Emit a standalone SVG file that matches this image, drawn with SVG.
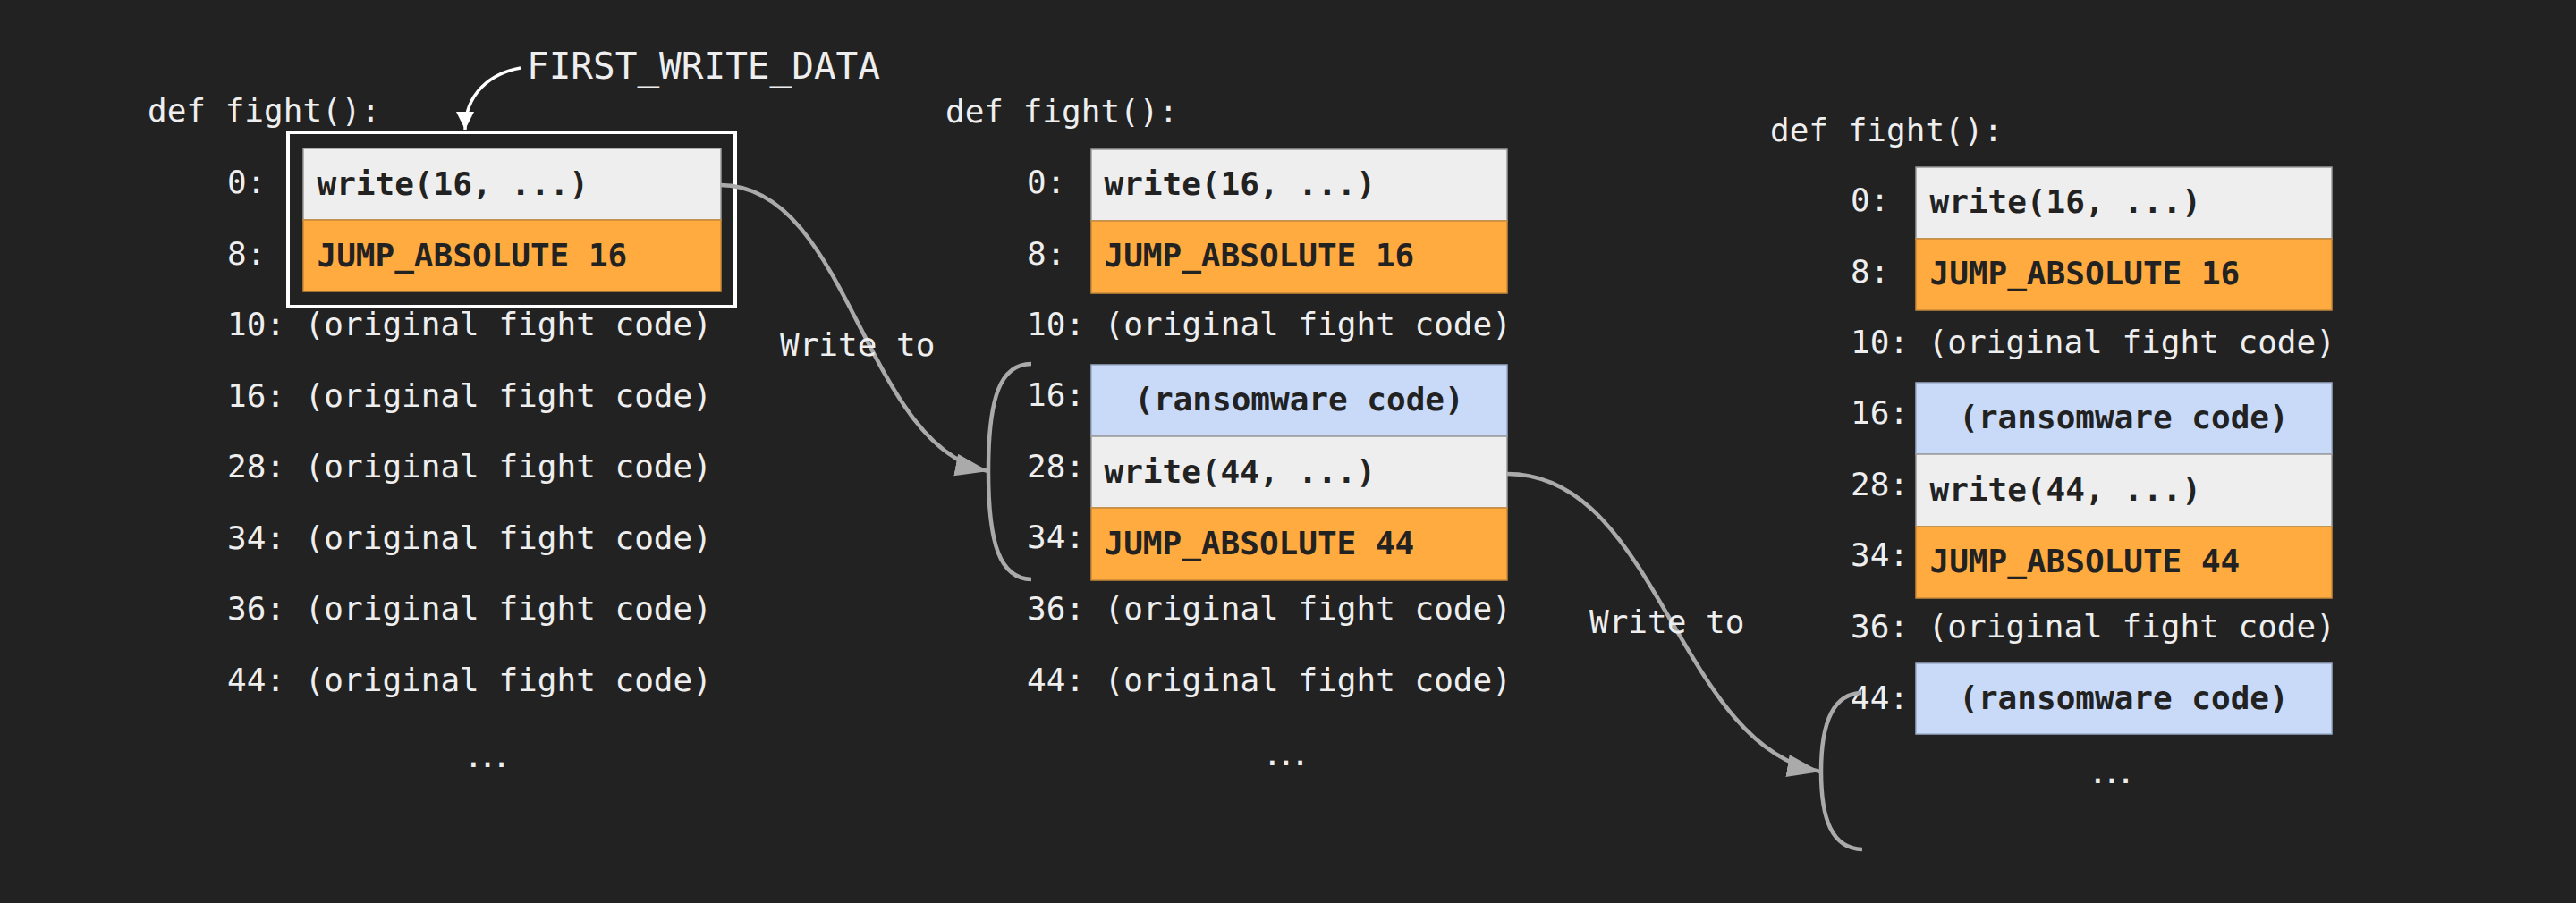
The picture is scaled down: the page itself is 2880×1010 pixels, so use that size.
<svg xmlns="http://www.w3.org/2000/svg" width="2880" height="1010" viewBox="0 0 2880 1010">
<defs>
<style>
.t{font-family:"DejaVu Sans Mono","Liberation Mono",monospace;font-size:36px;fill:#eeeeee}
.c{font-family:"DejaVu Sans Mono","Liberation Mono",monospace;font-size:36px;font-weight:bold;fill:#222222}
.mid{text-anchor:middle}
.dots{letter-spacing:-6px}
.w{fill:#eeeeee;stroke:#9a9a9a;stroke-width:1.5}
.o{fill:#ffab40;stroke:#c98a3a;stroke-width:1.5}
.b{fill:#c9daf8;stroke:#9aabc6;stroke-width:1.5}
.conn{fill:none;stroke:#aaaaaa;stroke-width:4.5}
.brk{fill:none;stroke:#aaaaaa;stroke-width:4.5}
</style>
<marker id="ah" markerUnits="userSpaceOnUse" markerWidth="40" markerHeight="28" refX="37" refY="12.5" orient="auto">
<path d="M0,0 L37,12.5 L0,25 z" fill="#aaaaaa"/>
</marker>
<marker id="ahw" markerUnits="userSpaceOnUse" markerWidth="22" markerHeight="22" refX="20" refY="10" orient="auto">
<path d="M0,0 L20,10 L0,20 z" fill="#ffffff"/>
</marker>
</defs>
<rect x="0" y="0" width="2880" height="1010" fill="#222222"/>

<!-- Column 1 -->
<g id="col1-labels">
<text class="t" x="165" y="136">def fight():</text>
<text class="t" x="254" y="216">0:</text>
<text class="t" x="254" y="295.5">8:</text>
<text class="t" x="254" y="375">10: (original fight code)</text>
<text class="t" x="254" y="454.5">16: (original fight code)</text>
<text class="t" x="254" y="534">28: (original fight code)</text>
<text class="t" x="254" y="613.5">34: (original fight code)</text>
<text class="t" x="254" y="693">36: (original fight code)</text>
<text class="t" x="254" y="772.5">44: (original fight code)</text>
<text class="t dots" x="518.5" y="858">...</text>
</g>
<g id="first-write-data">
<rect x="322" y="148" width="500" height="195" fill="none" stroke="#ffffff" stroke-width="4"/>
<text class="t" x="589" y="88" style="font-size:41px">FIRST_WRITE_DATA</text>
<path d="M582,76 C548,82 520,105 520,145" fill="none" stroke="#ffffff" stroke-width="3.5" marker-end="url(#ahw)"/>
</g>
<g id="c1-write16">
<rect class="w" x="339" y="166" width="467" height="80"/>
<text class="c" x="354.5" y="218">write(16, ...)</text>
</g>
<g id="c1-jump16">
<rect class="o" x="339" y="246" width="467" height="80"/>
<text class="c" x="354.5" y="298">JUMP_ABSOLUTE 16</text>
</g>

<!-- Column 2 -->
<g id="col2-labels">
<text class="t" x="1057" y="137">def fight():</text>
<text class="t" x="1148" y="216">0:</text>
<text class="t" x="1148" y="295.5">8:</text>
<text class="t" x="1148" y="375">10: (original fight code)</text>
<text class="t" x="1148" y="454">16:</text>
<text class="t" x="1148" y="534">28:</text>
<text class="t" x="1148" y="613">34:</text>
<text class="t" x="1148" y="693">36: (original fight code)</text>
<text class="t" x="1148" y="772.5">44: (original fight code)</text>
<text class="t dots" x="1411.4" y="856">...</text>
</g>
<g id="c2-write16">
<rect class="w" x="1220" y="167" width="465" height="80"/>
<text class="c" x="1234.5" y="218">write(16, ...)</text>
</g>
<g id="c2-jump16">
<rect class="o" x="1220" y="247" width="465" height="81"/>
<text class="c" x="1234.5" y="298">JUMP_ABSOLUTE 16</text>
</g>
<g id="c2-ransom16">
<rect class="b" x="1220" y="408" width="465" height="80"/>
<text class="c mid" x="1452.5" y="459">(ransomware code)</text>
</g>
<g id="c2-write44">
<rect class="w" x="1220" y="488" width="465" height="80"/>
<text class="c" x="1234.5" y="540">write(44, ...)</text>
</g>
<g id="c2-jump44">
<rect class="o" x="1220" y="568" width="465" height="81"/>
<text class="c" x="1234.5" y="620">JUMP_ABSOLUTE 44</text>
</g>

<!-- Column 3 -->
<g id="col3-labels">
<text class="t" x="1979" y="158">def fight():</text>
<text class="t" x="2069" y="236">0:</text>
<text class="t" x="2069" y="315.5">8:</text>
<text class="t" x="2069" y="395">10: (original fight code)</text>
<text class="t" x="2069" y="474">16:</text>
<text class="t" x="2069" y="554">28:</text>
<text class="t" x="2069" y="633">34:</text>
<text class="t" x="2069" y="713">36: (original fight code)</text>
<text class="t" x="2069" y="793">44:</text>
<text class="t dots" x="2334.4" y="876">...</text>
</g>
<g id="c3-write16">
<rect class="w" x="2142" y="187" width="465" height="80"/>
<text class="c" x="2157.5" y="238">write(16, ...)</text>
</g>
<g id="c3-jump16">
<rect class="o" x="2142" y="267" width="465" height="80"/>
<text class="c" x="2157.5" y="318">JUMP_ABSOLUTE 16</text>
</g>
<g id="c3-ransom16">
<rect class="b" x="2142" y="428" width="465" height="80"/>
<text class="c mid" x="2374.5" y="479">(ransomware code)</text>
</g>
<g id="c3-write44">
<rect class="w" x="2142" y="508" width="465" height="81"/>
<text class="c" x="2157.5" y="560">write(44, ...)</text>
</g>
<g id="c3-jump44">
<rect class="o" x="2142" y="589" width="465" height="80"/>
<text class="c" x="2157.5" y="640">JUMP_ABSOLUTE 44</text>
</g>
<g id="c3-ransom44">
<rect class="b" x="2142" y="742" width="465" height="79"/>
<text class="c mid" x="2374.5" y="793">(ransomware code)</text>
</g>

<!-- Connectors -->
<g id="connectors">
<path class="brk" d="M1153,407 C1118,407 1105,445 1105,527 C1105,609 1118,647 1153,648"/>
<path class="brk" d="M2081,775 C2048,776 2036,810 2036,863 C2036,916 2048,949 2082,950"/>
<path class="conn" d="M805,207 C950,207 965,500 1105,527" marker-end="url(#ah)"/>
<path class="conn" d="M1685,530 C1854,530 1875,835 2035,863" marker-end="url(#ah)"/>
<text class="t" x="872" y="398">Write to</text>
<text class="t" x="1777" y="708">Write to</text>
</g>
</svg>
